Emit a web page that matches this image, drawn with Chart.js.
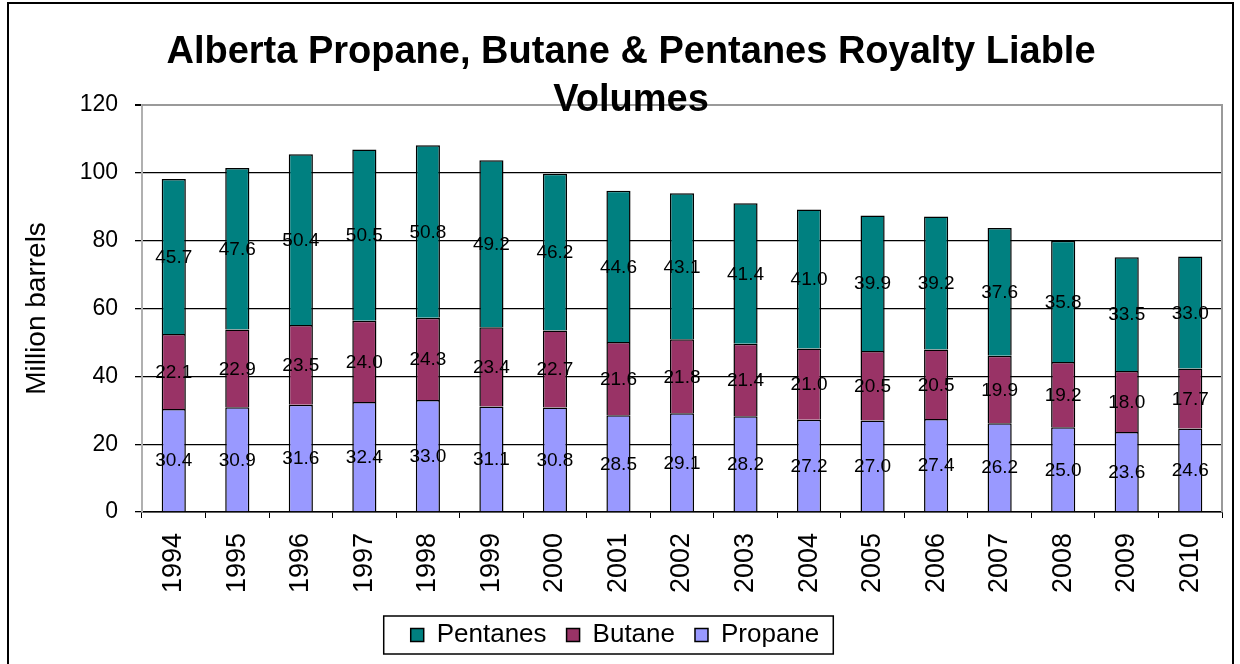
<!DOCTYPE html>
<html>
<head>
<meta charset="utf-8">
<script src="https://cdn.jsdelivr.net/npm/chart.js@4"></script>
<style>
html, body { margin: 0; padding: 0; background: #fff; }
</style>
</head>
<body>
<canvas id="chart" width="1240" height="664"></canvas>
<script>
let years = ["1994","1995","1996","1997","1998","1999","2000","2001","2002","2003","2004","2005","2006","2007","2008","2009","2010"];
let propane = [30.4,30.9,31.6,32.4,33.0,31.1,30.8,28.5,29.1,28.2,27.2,27.0,27.4,26.2,25.0,23.6,24.6];
let butane = [22.1,22.9,23.5,24.0,24.3,23.4,22.7,21.6,21.8,21.4,21.0,20.5,20.5,19.9,19.2,18.0,17.7];
let pentanes = [45.7,47.6,50.4,50.5,50.8,49.2,46.2,44.6,43.1,41.4,41.0,39.9,39.2,37.6,35.8,33.5,33.0];
let yTicks = [0,20,40,60,80,100,120];
let titleLines = ["Alberta Propane, Butane & Pentanes Royalty Liable", "Volumes"];

let font = '"Liberation Sans", Arial, sans-serif';

// value in the middle of every segment
let segLabels = {
  id: 'segLabels',
  afterDatasetsDraw(chart) {
    let ctx = chart.ctx;
    ctx.save();
    ctx.font = '19px ' + font;
    ctx.fillStyle = '#000';
    ctx.textAlign = 'center';
    ctx.textBaseline = 'middle';
    chart.data.datasets.forEach((ds, i) => {
      chart.getDatasetMeta(i).data.forEach((bar, j) => {
        let mid = (bar.y + bar.base) / 2;
        ctx.fillText(ds.data[j].toFixed(1), bar.x, mid + 1);
      });
    });
    ctx.restore();
  }
};

// grey plot frame, outer frame, title, legend box
let decor = {
  id: 'decor',
  beforeDatasetsDraw(chart) {
    let a = chart.chartArea, ctx = chart.ctx;
    ctx.save();
    ctx.strokeStyle = '#9a9a9a';
    ctx.lineWidth = 2;
    ctx.beginPath();
    ctx.moveTo(a.left, a.top);
    ctx.lineTo(a.right, a.top);
    ctx.lineTo(a.right, a.bottom);
    ctx.stroke();
    ctx.restore();
  },
  afterDraw(chart) {
    let ctx = chart.ctx;
    ctx.save();
    ctx.strokeStyle = '#000';
    ctx.lineWidth = 2;
    ctx.strokeRect(8, 3, 1225, 700);
    ctx.font = 'bold 38px ' + font;
    ctx.fillStyle = '#000';
    ctx.textAlign = 'center';
    ctx.textBaseline = 'alphabetic';
    ctx.fillText(titleLines[0], 631, 63);
    ctx.fillText(titleLines[1], 631, 111);
    let lg = chart.legend;
    if (lg && lg.legendHitBoxes && lg.legendHitBoxes.length) {
      let hb = lg.legendHitBoxes;
      let last = hb[hb.length - 1];
      let x0 = hb[0].left - 27, x1 = last.left + last.width + 14;
      ctx.lineWidth = 1.5;
      ctx.strokeRect(x0, hb[0].top - 6, x1 - x0, hb[0].height + 12);
    }
    ctx.restore();
  }
};

new Chart(document.getElementById("chart"), {
  type: 'bar',
  data: {
    labels: years,
    datasets: [
      { label: "Propane", data: propane, backgroundColor: "#9999FF", borderColor: "#000", borderWidth: 1.5 },
      { label: "Butane", data: butane, backgroundColor: "#993366", borderColor: "#000", borderWidth: 1.5 },
      { label: "Pentanes", data: pentanes, backgroundColor: "#008080", borderColor: "#000", borderWidth: 1.5 }
    ]
  },
  options: {
    responsive: false,
    animation: false,
    layout: { padding: { top: 105, left: 8, right: 18, bottom: 6 } },
    datasets: { bar: { categoryPercentage: 1, barPercentage: 0.38 } },
    scales: {
      x: {
        stacked: true,
        afterFit(axis) { axis.height = 90; },
        grid: { display: true, drawOnChartArea: false, color: '#000', tickLength: 6, offset: true },
        border: { color: '#000', width: 1.5 },
        ticks: { color: '#000', font: { family: font, size: 27 }, minRotation: 90, maxRotation: 90, padding: 15 }
      },
      y: {
        stacked: true,
        min: 0, max: 120,
        afterFit(axis) { axis.width = 134; },
        afterBuildTicks(axis) { axis.ticks = yTicks.map(v => ({ value: v })); },
        grid: {
          color: c => (c.tick && c.tick.value === 120) ? '#9a9a9a' : '#000',
          lineWidth: c => (c.tick && c.tick.value === 120) ? 2 : 1.3,
          tickColor: '#000',
          tickLength: 7
        },
        border: { color: '#b0b0b0', width: 2 },
        ticks: { color: '#000', font: { family: font, size: 23 }, padding: 17 },
        title: { display: true, text: "Million barrels", color: '#000', font: { family: font, size: 28 }, padding: { top: 12, bottom: 0 } }
      }
    },
    plugins: {
      legend: {
        position: 'bottom',
        reverse: true,
        labels: { color: '#000', font: { family: font, size: 26 }, boxWidth: 13, boxHeight: 13, padding: 20 }
      },
      tooltip: { enabled: false }
    }
  },
  plugins: [segLabels, decor]
});
</script>
</body>
</html>
